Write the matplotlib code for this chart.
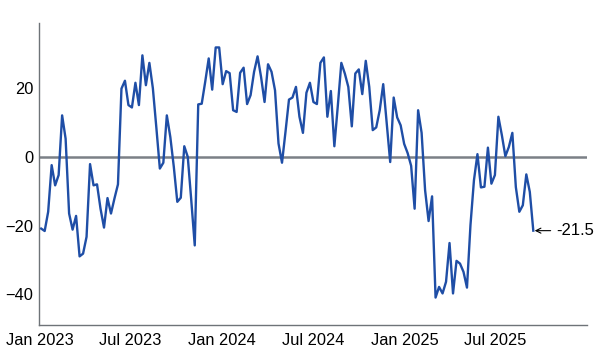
import numpy as np
import pandas as pd
import matplotlib
matplotlib.use("Agg")
import matplotlib.pyplot as plt
import matplotlib.dates as mdates

plt.rcParams['font.family'] = ['Liberation Sans', 'DejaVu Sans']

# weekly readings
start_date = "2023-01-03"
values = [
    -20.9, -21.6, -16.0, -2.4, -8.3, -5.3, 12.1, 5.3, -16.5, -21.2,
    -17.2, -29.0, -28.2, -23.3, -2.1, -8.3, -8.0, -15.1, -20.6, -12.0,
    -16.5, -12.1, -8.0, 19.9, 22.2, 15.1, 14.4, 21.6, 15.1, 29.6,
    20.9, 27.4, 20.0, 8.5, -3.4, -1.7, 12.1, 5.8, -2.9, -13.1,
    -11.9, 3.1, 0.0, -12.6, -25.8, 15.3, 15.5, 21.9, 28.7, 19.6,
    31.9, 31.9, 21.2, 25.0, 24.4, 13.6, 13.1, 24.5, 26.0, 15.4,
    18.0, 24.8, 29.3, 23.3, 16.0, 27.0, 24.8, 19.4, 3.9, -1.7,
    7.3, 16.7, 17.3, 20.4, 11.7, 7.0, 18.7, 21.6, 16.0, 15.4,
    27.4, 29.0, 11.7, 19.2, 3.1, 15.0, 27.4, 24.3, 20.4, 8.9,
    24.3, 25.5, 18.3, 28.0, 20.4, 7.8, 8.6, 13.6, 21.2, 9.9,
    -1.5, 17.3, 11.5, 9.2, 3.8, 1.1, -2.6, -15.1, 13.6, 7.0,
    -9.7, -18.7, -11.5, -41.0, -37.9, -39.8, -36.4, -25.1, -39.8, -30.3,
    -31.1, -33.5, -38.1, -19.9, -6.8, 0.8, -8.9, -8.7, 2.7, -7.8,
    -5.3, 11.7, 6.3, 0.2, 2.9, 7.0, -8.8, -16.0, -14.1, -5.1,
    -10.2, -21.5,
]
last_label = "-21.5"

yticks = [-40, -20, 0, 20]
xtick_dates = ["2023-01-01", "2023-07-01", "2024-01-01", "2024-07-01",
               "2025-01-01", "2025-07-01"]
xtick_labels = ["Jan 2023", "Jul 2023", "Jan 2024", "Jul 2024",
                "Jan 2025", "Jul 2025"]

dates = pd.date_range(start_date, periods=len(values), freq="7D")

fig = plt.figure(figsize=(5.98, 3.55), dpi=100)
ax = fig.add_axes([0.0647, 0.0845, 0.9163, 0.8495])

ax.axhline(0, color="#7b8086", lw=1.8, zorder=1)
ax.plot(dates, values, color="#1f4ea6", lw=1.7, zorder=3)

ax.annotate(last_label, xy=(dates[-1], values[-1]), xytext=(16.5, 0),
            textcoords="offset points", ha="left", va="center", fontsize=12,
            arrowprops=dict(arrowstyle="->,head_length=0.3,head_width=0.15",
                            color="black", lw=0.8, shrinkA=2, shrinkB=1))

ax.set_xlim(pd.Timestamp("2022-12-29"), pd.Timestamp("2026-01-01"))
ax.set_ylim(-49, 38.9)
ax.set_yticks(yticks)
ax.set_yticklabels(["\u221240", "\u221220", "0", "20"])
ax.set_xticks(pd.to_datetime(xtick_dates))
ax.set_xticklabels(xtick_labels)

ax.tick_params(axis="both", length=0, labelsize=11.8, colors="black")
ax.tick_params(axis="x", pad=6)
ax.tick_params(axis="y", pad=4)

for s in ["top", "right"]:
    ax.spines[s].set_visible(False)
for s in ["left", "bottom"]:
    ax.spines[s].set_color("#6e7378")
    ax.spines[s].set_linewidth(1.0)

fig.savefig("out.png", dpi=100)
